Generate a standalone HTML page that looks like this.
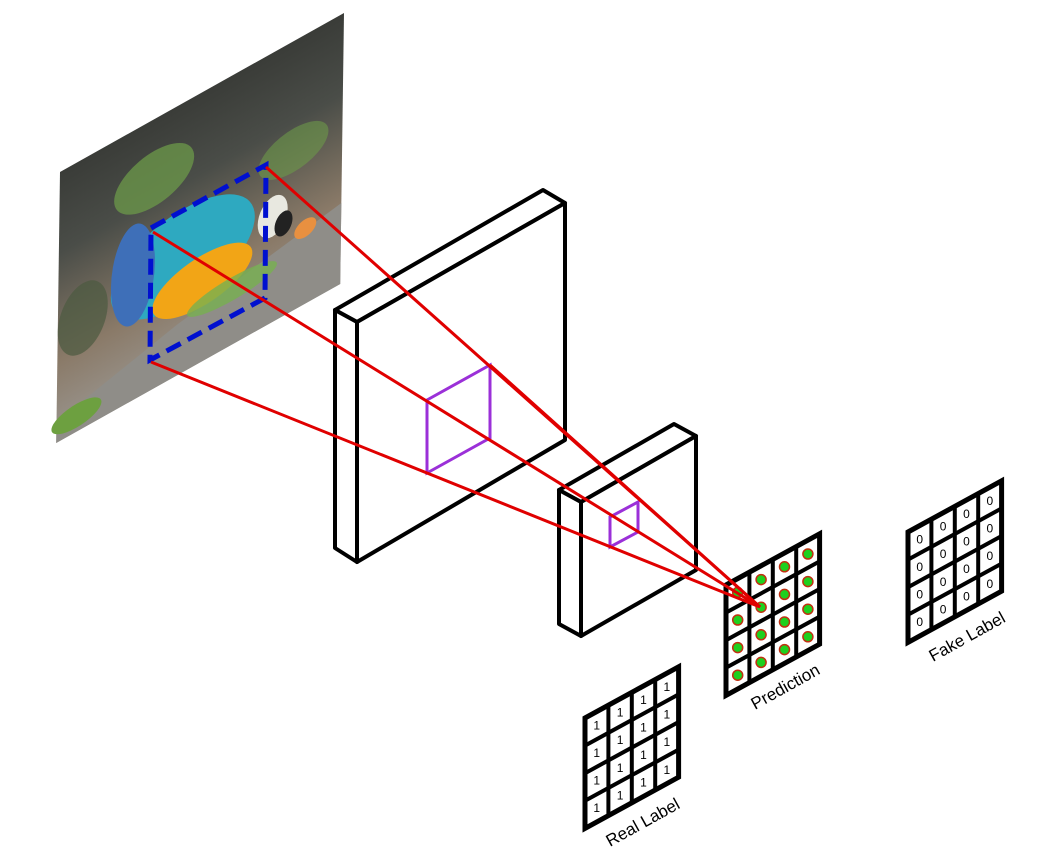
<!DOCTYPE html>
<html><head><meta charset="utf-8"><style>
html,body{margin:0;padding:0;background:#fff;}
svg{display:block;font-family:"Liberation Sans","DejaVu Sans",sans-serif;}
</style></head><body>
<svg width="1038" height="853" viewBox="0 0 1038 853">
<defs>
<linearGradient id="bg" x1="0" y1="0" x2="0" y2="1">
<stop offset="0" stop-color="#3a3c38"/><stop offset="0.3" stop-color="#4a4d48"/><stop offset="0.5" stop-color="#6a6458"/><stop offset="0.7" stop-color="#8a7a68"/><stop offset="1" stop-color="#9a9690"/>
</linearGradient>
</defs>
<g transform="matrix(1,-0.56,-0.014,1,60,172)">
<rect x="0" y="0" width="284" height="271" fill="url(#bg)"/>
<ellipse cx="95" cy="60" rx="40" ry="28" fill="#6c9a4a" opacity="0.75"/>
<ellipse cx="235" cy="110" rx="35" ry="22" fill="#6c9a4a" opacity="0.6"/>
<ellipse cx="25" cy="160" rx="25" ry="35" fill="#4b5a40" opacity="0.7"/>
<path d="M0 250 L120 220 L284 190 L284 271 L0 271 Z" fill="#8f8d88"/>
<ellipse cx="125" cy="155" rx="72" ry="48" fill="#2ea9c0"/>
<ellipse cx="75" cy="145" rx="22" ry="50" fill="#3e6fb8"/>
<ellipse cx="145" cy="190" rx="50" ry="26" fill="#f2a516"/>
<ellipse cx="215" cy="165" rx="15" ry="20" fill="#e8e8e0"/>
<ellipse cx="226" cy="178" rx="9" ry="12" fill="#222"/>
<ellipse cx="248" cy="195" rx="11" ry="9" fill="#e89040"/>
<ellipse cx="20" cy="255" rx="25" ry="12" fill="#6da040"/>
<ellipse cx="175" cy="215" rx="45" ry="12" fill="#77b050" opacity="0.8"/>
</g>
<polygon points="151,228 266,165 265,298 150,360" fill="none" stroke="#0010d0" stroke-width="5" stroke-dasharray="16,8"/>
<g fill="#fff" stroke="#000" stroke-width="4" stroke-linejoin="round">
<polygon points="335,310 543,190 565,203 357,322"/>
<polygon points="335,310 357,322 357,562 335,548"/>
<polygon points="357,322 565,203 565,440 357,562"/>
</g>
<polygon points="427,400 490,365 490,438 427,473" fill="none" stroke="#9b30d8" stroke-width="3"/>
<g fill="#fff" stroke="#000" stroke-width="4" stroke-linejoin="round">
<polygon points="559,490 674,424 696,436 581,502"/>
<polygon points="559,490 581,502 581,636 559,624"/>
<polygon points="581,502 696,436 696,570 581,636"/>
</g>
<polygon points="610,517 638,502 638,532 610,547" fill="none" stroke="#9b30d8" stroke-width="3"/>
<g id="grids"></g>
<g stroke="#e00000" stroke-width="3" fill="none">
<line x1="266" y1="167" x2="760" y2="607"/>
<line x1="153" y1="232" x2="760" y2="607"/>
<line x1="151" y1="362" x2="760" y2="607"/>
<line x1="490" y1="365" x2="760" y2="607"/>
</g>
<text transform="translate(755,710) rotate(-29)" font-size="17">Prediction</text>
<text transform="translate(933,662) rotate(-29)" font-size="17">Fake Label</text>
<text transform="translate(610,847) rotate(-29)" font-size="17">Real Label</text>
</svg>
<script>
const gridNames = ['real-label-grid','prediction-grid','fake-label-grid'];
const gridOrigins = [[585,718],[726,585],[908,532]];
const cellValues = [['1','1','1','1'],['dot','dot','dot','dot'],['0','0','0','0']];
const NS='http://www.w3.org/2000/svg';
const g=document.getElementById('grids');
const du=[23.4,-12.8], dv=[0,27.6];
function P(o,u,v){return [o[0]+u*du[0]+v*dv[0], o[1]+u*du[1]+v*dv[1]];}
gridNames.forEach((name,k)=>{
  const o=gridOrigins[k];
  const grp=document.createElementNS(NS,'g');
  
  
  const c=[P(o,0,0),P(o,4,0),P(o,4,4),P(o,0,4)];
  const poly=document.createElementNS(NS,'polygon');
  poly.setAttribute('points',c.map(p=>p.join(',')).join(' '));
  poly.setAttribute('fill','#fff');poly.setAttribute('stroke','#000');poly.setAttribute('stroke-width','5');
  grp.appendChild(poly);
  for(let i=1;i<4;i++){
    [[P(o,i,0),P(o,i,4)],[P(o,0,i),P(o,4,i)]].forEach(([a,b])=>{
      const l=document.createElementNS(NS,'line');
      l.setAttribute('x1',a[0]);l.setAttribute('y1',a[1]);l.setAttribute('x2',b[0]);l.setAttribute('y2',b[1]);
      l.setAttribute('stroke','#000');l.setAttribute('stroke-width','4');
      grp.appendChild(l);
    });
  }
  for(let u=0;u<4;u++)for(let v=0;v<4;v++){
    const p=P(o,u+0.5,v+0.5);
    const val=cellValues[k][u];
    if(val==='dot'){
      const ci=document.createElementNS(NS,'circle');
      
      
      ci.setAttribute('cx',p[0]);ci.setAttribute('cy',p[1]);ci.setAttribute('r','5');
      ci.setAttribute('fill','#1ed01e');ci.setAttribute('stroke','#c03010');ci.setAttribute('stroke-width','1.5');
      grp.appendChild(ci);
    } else {
      const t=document.createElementNS(NS,'text');
      
      
      t.setAttribute('x',p[0]);t.setAttribute('y',p[1]+4);t.setAttribute('font-size','12');
      t.setAttribute('text-anchor','middle');t.textContent=val;
      grp.appendChild(t);
    }
  }
  g.appendChild(grp);
});
</script>
</body></html>
